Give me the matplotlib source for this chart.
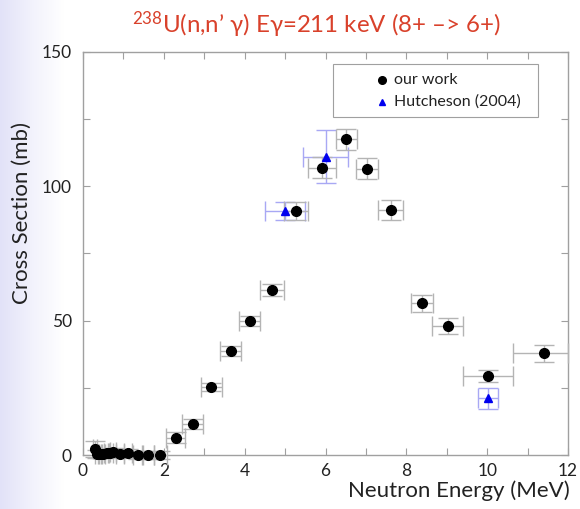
import numpy as np
import matplotlib
matplotlib.use("Agg")
import matplotlib.pyplot as plt
from matplotlib.patches import Rectangle
from matplotlib.colors import LinearSegmentedColormap

plt.rcParams['font.family'] = ['Lato', 'DejaVu Sans']
plt.rcParams['mathtext.fontset'] = 'custom'
plt.rcParams['mathtext.rm'] = 'Lato'

# our work: neutron energy (MeV), cross section (mb), error half-widths
energy = [0.30, 0.34, 0.42, 0.50, 0.59, 0.67, 0.75, 0.92, 1.12, 1.35, 1.62, 1.91,
          2.29, 2.71, 3.17, 3.65, 4.13, 4.68, 5.27, 5.91, 6.51, 7.03, 7.61, 8.39,
          9.02, 10.03, 11.40]
xsec = [2.2, 0.4, 0.3, 0.4, 0.8, 0.6, 1.0, 0.2, 0.6, 0.1, 0.1, 0.1,
        6.5, 11.4, 25.4, 38.7, 49.9, 61.4, 90.8, 106.9, 117.5, 106.6, 91.1, 56.5,
        48.0, 29.5, 37.8]
energy_err_lo = [0.05, 0.05, 0.05, 0.05, 0.06, 0.06, 0.07, 0.10, 0.10, 0.11, 0.14, 0.16,
                 0.23, 0.27, 0.26, 0.26, 0.26, 0.30, 0.29, 0.34, 0.26, 0.27, 0.31, 0.27,
                 0.39, 0.62, 0.76]
energy_err_hi = [0.05, 0.05, 0.05, 0.05, 0.06, 0.06, 0.07, 0.10, 0.10, 0.11, 0.14, 0.16,
                 0.23, 0.27, 0.26, 0.26, 0.26, 0.30, 0.29, 0.34, 0.26, 0.27, 0.31, 0.27,
                 0.39, 0.62, 0.60]
xsec_err = [3.0, 1.5, 1.5, 1.5, 1.5, 1.5, 1.5, 1.5, 1.5, 1.5, 1.5, 1.5,
            2.0, 1.9, 1.4, 1.9, 1.9, 2.2, 3.3, 3.9, 4.0, 4.0, 3.7, 3.1,
            3.0, 2.3, 3.2]

# Hutcheson (2004)
h_energy = [5.0, 6.0, 10.03]
h_xsec = [90.9, 111.0, 21.1]
h_energy_err = [0.5, 0.55, 0.25]
h_xsec_err = [3.4, 9.9, 3.9]

legend_labels = ['our work', 'Hutcheson (2004)']

fig = plt.figure(figsize=(5.8, 5.09), dpi=100)

# faint lavender strip on the left edge
bg = fig.add_axes([0, 0, 1, 1], zorder=-10)
cmap = LinearSegmentedColormap.from_list('bg', ['#e2e2f8', '#f2f2fc', '#ffffff'])
grad = np.linspace(0, 1, 200).reshape(1, -1)
bg.imshow(grad, aspect='auto', cmap=cmap, extent=[0, 0.11, 0, 1])
bg.set_xlim(0, 1)
bg.set_ylim(0, 1)
bg.axis('off')

ax = fig.add_axes([83 / 580, 54 / 509, 485 / 580, 403 / 509])

ax.errorbar(h_energy, h_xsec, xerr=h_energy_err, yerr=h_xsec_err, fmt='none',
            ecolor='#a8a8f4', elinewidth=1, capsize=7.5, capthick=1, clip_on=False, zorder=2)
ax.errorbar(energy, xsec, xerr=[energy_err_lo, energy_err_hi], yerr=xsec_err, fmt='none',
            ecolor='#b4b4b4', elinewidth=1, capsize=7.5, capthick=1, clip_on=False, zorder=3)
ax.plot(h_energy, h_xsec, '^', color='#0000ee', markersize=5.5, zorder=4, clip_on=False)
ax.plot(energy, xsec, 'o', color='black', markersize=7, zorder=5, clip_on=False)

ax.set_xlim(0, 12)
ax.set_ylim(0, 150)
ax.set_xticks(range(0, 13, 2))
ax.set_xticks(range(0, 13), minor=True)
ax.set_yticks([0, 50, 100, 150])
ax.set_yticks(range(0, 151, 25), minor=True)
ax.tick_params(which='both', direction='in', top=True, right=True, length=5,
               width=0.8, color='#a0a0a0', labelsize=12.5, labelcolor='#222222')
ax.tick_params(axis='x', pad=6)
ax.tick_params(axis='y', pad=8)
for s in ax.spines.values():
    s.set_color('#a0a0a0')
    s.set_linewidth(1)

ax.set_xlabel('Neutron Energy (MeV)', fontsize=16, color='#222222', ha='right')
ax.xaxis.set_label_coords(1.004, -0.064)
ax.set_ylabel('Cross Section (mb)', fontsize=16, color='#222222')
ax.yaxis.set_label_coords(-0.105, 0.6)

fig.text(0.545, 0.952, r'$\mathregular{^{238}}$U(n,n’ γ) Eγ=211 keV (8+ –> 6+)',
         ha='center', va='center', fontsize=17.3, color='#d9412b')

# legend box drawn by hand (markers sit well right of the frame's left edge)
ax.add_patch(Rectangle((0.515, 0.838), 0.423, 0.1315, transform=ax.transAxes,
                       facecolor='white', edgecolor='#a0a0a0', linewidth=0.8, zorder=6))
ax.plot([0.616], [0.930], 'o', color='black', markersize=5.5,
        transform=ax.transAxes, zorder=7)
ax.plot([0.616], [0.876], '^', color='#0000ee', markersize=5,
        transform=ax.transAxes, zorder=7)
ax.text(0.641, 0.930, legend_labels[0], transform=ax.transAxes, fontsize=11.5,
        va='center', ha='left', color='#222222', zorder=7)
ax.text(0.641, 0.876, legend_labels[1], transform=ax.transAxes, fontsize=11.5,
        va='center', ha='left', color='#222222', zorder=7)

fig.savefig('out.png', dpi=100)
